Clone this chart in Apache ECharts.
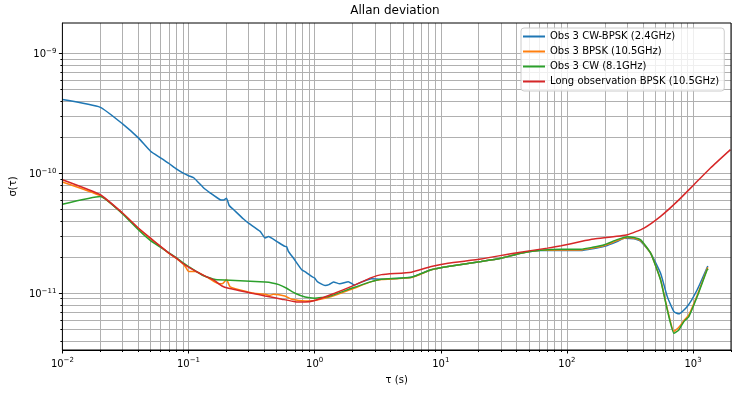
<!DOCTYPE html>
<html><head><meta charset="utf-8">
<script src="https://cdn.jsdelivr.net/npm/echarts@6/dist/echarts.min.js"></script>
<style>html,body{margin:0;padding:0;background:#fff}#c{width:737px;height:394px}</style>
</head><body><div id="c"></div>
<script>
// ---- data ----
const blueTau = [0.01,0.02,0.03,0.04,0.05,0.06,0.07,0.08,0.09,0.1,0.11,0.132,0.149,0.178,0.19,0.2,0.21,0.228,0.273,0.299,0.37,0.405,0.43,0.5,0.58,0.6,0.62,0.68,0.79,0.85,0.946,1.0,1.05,1.21,1.3,1.41,1.58,1.85,2.07,2.4,2.82,3.39,4.5,5.85,8.4,11.4,20.9,30,43,62,90,129,160,198,250,284,340,385,461,553,625,705,772,900,1079,1309];
const blueSig = [4.13e-10,3.56e-10,2.59e-10,1.98e-10,1.53e-10,1.35e-10,1.21e-10,1.09e-10,1.01e-10,9.57e-11,9.2e-11,7.55e-11,6.86e-11,6.03e-11,6.0e-11,6.2e-11,5.4e-11,4.98e-11,4.16e-11,3.85e-11,3.28e-11,2.89e-11,2.98e-11,2.71e-11,2.46e-11,2.45e-11,2.23e-11,1.96e-11,1.57e-11,1.5e-11,1.38e-11,1.34e-11,1.25e-11,1.16e-11,1.18e-11,1.24e-11,1.2e-11,1.25e-11,1.17e-11,1.25e-11,1.32e-11,1.31e-11,1.33e-11,1.36e-11,1.57e-11,1.67e-11,1.84e-11,1.96e-11,2.16e-11,2.27e-11,2.27e-11,2.27e-11,2.35e-11,2.46e-11,2.7e-11,2.88e-11,2.85e-11,2.71e-11,2.16e-11,1.47e-11,9.37e-12,7.03e-12,6.73e-12,7.74e-12,1.07e-11,1.69e-11];

const orangeTau = [0.01,0.02,0.03,0.04,0.05,0.06,0.07,0.08,0.09,0.095,0.1,0.113,0.144,0.174,0.185,0.2,0.214,0.3,0.33,0.405,0.44,0.47,0.58,0.66,0.84,1.0,1.36,1.96,2.82,3.39,5.85,8.4,11.4,20.9,30,43,62,90,129,160,198,250,300,340,385,461,553,625,705,772,846,927,1079,1294,1310];
const orangeSig = [8.48e-11,6.5e-11,4.65e-11,3.47e-11,2.85e-11,2.45e-11,2.15e-11,1.95e-11,1.76e-11,1.65e-11,1.52e-11,1.52e-11,1.34e-11,1.2e-11,1.2e-11,1.3e-11,1.13e-11,1.02e-11,1.0e-11,9.8e-12,9.6e-12,9.8e-12,9.5e-12,8.9e-12,8.6e-12,8.7e-12,9.37e-12,1.08e-11,1.25e-11,1.3e-11,1.35e-11,1.57e-11,1.67e-11,1.84e-11,1.96e-11,2.16e-11,2.28e-11,2.3e-11,2.3e-11,2.38e-11,2.5e-11,2.75e-11,2.92e-11,2.88e-11,2.75e-11,2.16e-11,1.3e-11,7.4e-12,4.8e-12,5.2e-12,5.9e-12,6.6e-12,9.6e-12,1.6e-11,1.65e-11];

const greenTau = [0.01,0.02,0.03,0.04,0.05,0.06,0.07,0.08,0.09,0.1,0.128,0.163,0.234,0.405,0.46,0.52,0.6,0.7,0.84,1.0,1.28,1.96,2.82,3.39,5.85,8.4,11.4,20.9,30,43,62,90,129,160,198,250,302,340,385,461,553,625,705,772,846,927,1079,1294,1320];
const greenSig = [5.54e-11,6.43e-11,4.6e-11,3.39e-11,2.75e-11,2.42e-11,2.17e-11,1.98e-11,1.8e-11,1.67e-11,1.42e-11,1.3e-11,1.28e-11,1.24e-11,1.22e-11,1.18e-11,1.1e-11,1.0e-11,9.3e-12,9.1e-12,9.37e-12,1.1e-11,1.25e-11,1.31e-11,1.36e-11,1.57e-11,1.67e-11,1.84e-11,1.96e-11,2.16e-11,2.28e-11,2.33e-11,2.33e-11,2.42e-11,2.54e-11,2.8e-11,2.96e-11,2.92e-11,2.79e-11,2.16e-11,1.29e-11,7.26e-12,4.64e-12,4.94e-12,5.8e-12,6.39e-12,9.38e-12,1.57e-11,1.6e-11];

const redTau = [0.01,0.02,0.03,0.04,0.05,0.06,0.07,0.08,0.09,0.1,0.128,0.16,0.184,0.208,0.318,0.405,0.55,0.7,0.84,1.0,1.44,1.96,2.82,3.39,5.85,8.4,11.4,20.9,38,70,90,129,164,302,409,553,750,1016,1375,1980];
const redSig = [8.86e-11,6.64e-11,4.67e-11,3.5e-11,2.88e-11,2.46e-11,2.16e-11,1.96e-11,1.78e-11,1.65e-11,1.43e-11,1.28e-11,1.15e-11,1.1e-11,1.0e-11,9.5e-12,8.92e-12,8.5e-12,8.45e-12,8.7e-12,1.0e-11,1.14e-11,1.35e-11,1.43e-11,1.5e-11,1.67e-11,1.78e-11,1.93e-11,2.16e-11,2.38e-11,2.49e-11,2.7e-11,2.83e-11,3.08e-11,3.5e-11,4.38e-11,5.84e-11,8.05e-11,1.11e-10,1.58e-10];

const seriesNames = ['Obs 3 CW-BPSK (2.4GHz)','Obs 3 BPSK (10.5GHz)','Obs 3 CW (8.1GHz)','Long observation BPSK (10.5GHz)'];
const xMajorTicks = [0.01,0.1,1,10,100,1000];
const yMajorTicks = [1e-11,1e-10,1e-9];
const xRange = [0.01, 2000];
const yRange = [3.36e-12, 1.8e-9];

// ---- build ----
const FONT = 'DejaVu Sans';
const colors = ['#1f77b4','#ff7f0e','#2ca02c','#d62728'];
function zip(a,b){return a.map((v,i)=>[v,b[i]]);}
function minorVals(lo, hi, d0, d1){
  const out=[];
  for(let d=d0; d<=d1; d++) for(let m=1;m<=9;m++){const v=m*Math.pow(10,d); if(v>=lo*0.999 && v<=hi*1.001) out.push(v);}
  return out;
}
const xGrid = minorVals(xRange[0], xRange[1], -2, 3);
const yGrid = minorVals(yRange[0], yRange[1], -12, -9);
const xMinor = xGrid.filter(v=>!xMajorTicks.some(m=>Math.abs(v/m-1)<1e-6));
const yMinor = yGrid.filter(v=>!yMajorTicks.some(m=>Math.abs(v/m-1)<1e-6));

function powLabel(v){
  const e = Math.round(Math.log10(v));
  return '{b|10}{s|' + (e<0?'\u2212':'') + Math.abs(e) + '}';
}
const richLab = {
  b:{fontSize:10, fontFamily:FONT, color:'#000', lineHeight:12, verticalAlign:'bottom'},
  s:{fontSize:7, fontFamily:FONT, color:'#000', lineHeight:8, verticalAlign:'top'}
};

const chart = echarts.init(document.getElementById('c'), null, {renderer:'canvas'});
const dataSets = [zip(blueTau,blueSig), zip(orangeTau,orangeSig), zip(greenTau,greenSig), zip(redTau,redSig)];

const gridLine = {color:'#b0b0b0', width:1, type:'solid'};
chart.setOption({
  animation:false,
  backgroundColor:'#fff',
  title:{text:'Allan deviation', left:395, top:5, textAlign:'center', padding:0,
    textStyle:{fontFamily:FONT, fontSize:12, fontWeight:'normal', color:'#000'}},
  legend:{
    data: seriesNames, orient:'vertical', left:521, top:28, z:20,
    padding:[1,5,2,2], itemGap:0, itemWidth:22, itemHeight:2, icon:'rect',
    backgroundColor:'rgba(255,255,255,0.8)', borderColor:'#cccccc', borderWidth:1, borderRadius:3,
    textStyle:{fontFamily:FONT, fontSize:10, color:'#000', lineHeight:15}
  },
  grid:{left:60, right:6, top:23, bottom:44, show:true, borderColor:'#000', borderWidth:1, backgroundColor:'transparent', z:10},
  xAxis:[{
    type:'log', logBase:10, min:xRange[0], max:xRange[1],
    name:'\u03c4 (s)', nameLocation:'middle', nameGap:25,
    nameTextStyle:{fontFamily:FONT, fontSize:10, color:'#000'},
    axisLine:{show:true, lineStyle:{color:'#000', width:1}},
    axisTick:{show:true, inside:false, length:3.5, lineStyle:{color:'#000', width:1}, customValues:xMajorTicks},
    axisLabel:{show:true, margin:7, customValues:xMajorTicks, formatter:powLabel, rich:richLab},
    splitLine:{show:false}, minorTick:{show:false}, minorSplitLine:{show:false}
  },{
    type:'log', logBase:10, min:xRange[0], max:xRange[1], position:'bottom', offset:0,
    axisLine:{show:false},
    axisTick:{show:true, inside:false, length:2, lineStyle:{color:'#000', width:1}, customValues:xMinor},
    axisLabel:{show:false}, splitLine:{show:false}
  }],
  yAxis:[{
    type:'log', logBase:10, min:yRange[0], max:yRange[1],
    name:'\u03c3(\u03c4)', nameLocation:'middle', nameGap:41, nameRotate:90,
    nameTextStyle:{fontFamily:FONT, fontSize:10, color:'#000'},
    axisLine:{show:true, lineStyle:{color:'#000', width:1}},
    axisTick:{show:true, inside:false, length:3.5, lineStyle:{color:'#000', width:1}, customValues:yMajorTicks},
    axisLabel:{show:true, margin:6, customValues:yMajorTicks, formatter:powLabel, rich:richLab},
    splitLine:{show:false}, minorTick:{show:false}, minorSplitLine:{show:false}
  },{
    type:'log', logBase:10, min:yRange[0], max:yRange[1], position:'left', offset:0,
    axisLine:{show:false},
    axisTick:{show:true, inside:false, length:2, lineStyle:{color:'#000', width:1}, customValues:yMinor},
    axisLabel:{show:false}, splitLine:{show:false}
  }],
  series:[
    {type:'line', name:'grid', data:[], z:1, silent:true, xAxisIndex:0, yAxisIndex:0,
      markLine:{silent:true, z:1, precision:20, symbol:['none','none'], animation:false, label:{show:false},
        lineStyle:gridLine, emphasis:{disabled:true},
        data: xGrid.map(v=>({xAxis:v})).concat(yGrid.map(v=>({yAxis:v})))}}
  ].concat(dataSets.map((d,i)=>({
    type:'line', name:seriesNames[i], data:d, xAxisIndex:0, yAxisIndex:0, z:3+i,
    symbol:'none', showSymbol:false, smooth:0.15,
    lineStyle:{color:colors[i], width:1.5}, itemStyle:{color:colors[i]}, emphasis:{disabled:true}
  })))
});
</script></body></html>
